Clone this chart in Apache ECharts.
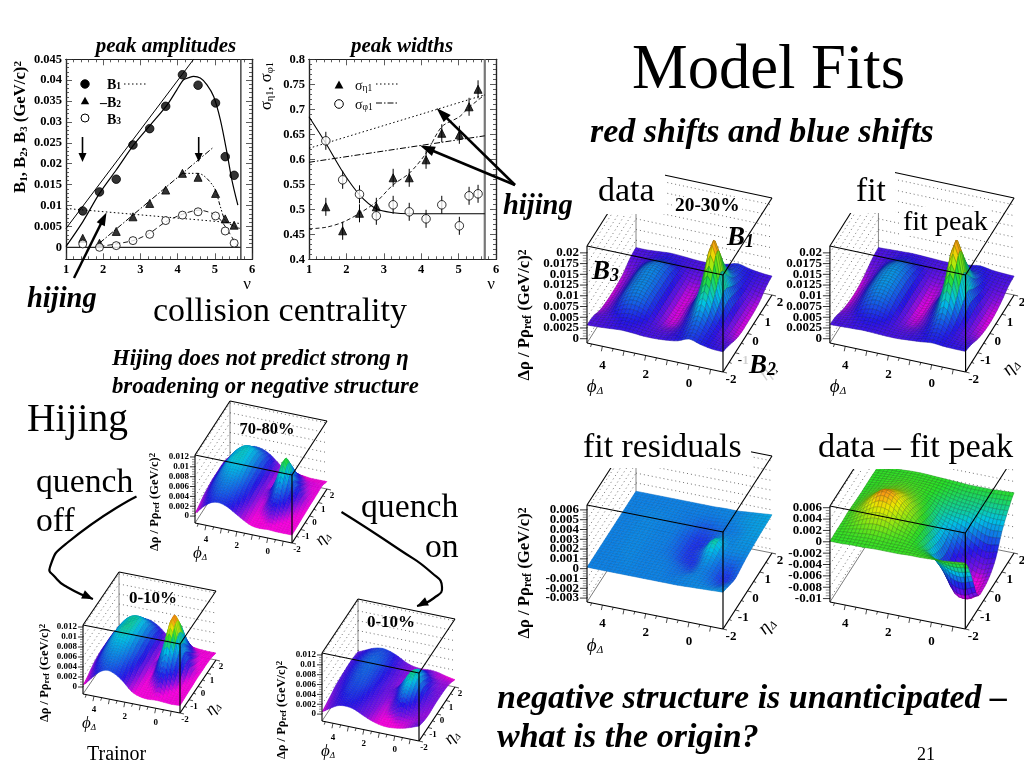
<!DOCTYPE html>
<html><head><meta charset="utf-8">
<style>html,body{margin:0;padding:0;background:#fff}#c{width:1024px;height:768px}</style>
<script src="https://cdn.jsdelivr.net/npm/echarts@6/dist/echarts.min.js"></script>
</head><body><div id="c"></div>
<script>
// ---------- 2-D plots: data ----------
const nu = [1.45,1.9,2.35,2.8,3.25,3.68,4.13,4.55,5.02,5.28,5.52];
const b1 = [.0087,.01325,.0163,.0245,.0284,.03375,.0413,.0388,.03455,.0217,.01723];
const b2 = [.00215,.00096,.0038,.0073,.0105,.0137,.0177,.01675,.0129,.0068,.0053];
const b3 = [.0008,0,.0004,.0016,.0031,.0064,.0077,.0085,.0075,.0039,.001];
const b1Curve = [[1,.0002],[1.45,.0061],[1.9,.0129],[2.35,.0185],[2.82,.0245],[3.27,.0293],[3.72,.0341],[3.98,.0377],[4.16,.0401],[4.3,.0406],[4.43,.0409],[4.61,.0405],[4.79,.0389],[4.97,.0361],[5.15,.0305],[5.33,.0225],[5.46,.0161],[5.62,.0101]];
const b1Line = [[1,.0045],[4.43,.045]];
const b1Hijing = [[1,.0093],[5.69,.0057]];
const b2Line = [[1.9,.001],[4.97,.024]];
const b2Curve = [[4.13,.0177],[4.55,.0177],[4.97,.0145],[5.15,.0097],[5.28,.0065],[5.52,.005],[5.69,.0045]];
const b3Curve = [[1.9,.0002],[2.8,.0016],[3.25,.0034],[3.68,.0061],[4.13,.0079],[4.57,.0089],[5.02,.0077],[5.28,.005],[5.53,.0014],[5.62,.0002]];
const sigEta = [.505,.457,.492,.505,.563,.563,.599,.652,.649,.705,.74];
const sigPhi = [.637,.559,.53,.487,.509,.495,.481,.509,.467,.527,.531];
const sigErr = .018;
const sigPhiCurve = [[1,.685],[1.45,.632],[1.9,.575],[2.35,.529],[2.8,.501],[3.25,.493],[3.68,.491],[5.7,.491]];
const sigEtaCurve = [[1,.461],[1.45,.464],[1.9,.474],[2.35,.492],[2.8,.515],[3.25,.549],[3.68,.572],[4.13,.612],[4.55,.665],[5.02,.685],[5.28,.704],[5.7,.729]];
const sigEtaHijing = [[1,.622],[5.7,.729]];
const sigPhiHijing = [[1,.594],[5.7,.647]];
const ampTicks = [0,.005,.01,.015,.02,.025,.03,.035,.04,.045];
const widthTicks = [.4,.45,.5,.55,.6,.65,.7,.75,.8];
const nuTicks = [1,2,3,4,5,6];

// ---------- surfaces: heights in units of 0.001, rows eta -2..2, columns phi -1.57..4.71 ----------
const PHI = [-1.57,-1.05,-.52,0,.52,1.05,1.57,2.09,2.62,3.14,3.67,4.19,4.71];
const ETA = [-2,-1.5,-1,-.5,0,.5,1,1.5,2];
const zData = [
[3.7,3.8,4.3,5,4,3.6,3.4,3.4,3.6,3.7,3.5,3.3,3.2],
[3,3.5,4.5,6,4.3,3.2,3,3.4,4,4.3,3.8,3.2,3],
[2,3,5,8.5,5,2.5,2,3.4,5.5,6.2,5.2,3,2],
[1.5,3,6.5,13,6.5,2.5,1.5,3.5,6,7,6,3,1.6],
[1.5,3.2,8,19,8,2.8,1.5,3.5,6,7,6,3,1.5],
[1.6,3,6.5,13,6,2.5,1.6,3.5,6,7,6,3,1.6],
[2,3,5,8,5,2.6,2,3.4,5.5,6.2,5.2,3,2],
[3,3.4,4.3,5.5,4.2,3.2,3,3.4,4,4.3,3.8,3.2,3],
[3.4,3.6,4,4.6,3.9,3.4,3.3,3.4,3.6,3.7,3.5,3.3,3.3]];
const zFit = [
[3.8,3.8,3.9,4.1,3.8,3.6,3.4,3.4,3.5,3.6,3.5,3.4,3.3],
[3.2,3.4,4,5.2,4,3.2,3,3.4,4,4.3,3.9,3.2,3],
[2.2,2.9,4.6,8,4.6,2.6,2.1,3.4,5.4,6.2,5.2,3.1,2.1],
[1.6,2.8,6,13.5,6,2.6,1.6,3.5,6.2,7.2,6.1,3.1,1.6],
[1.4,2.9,7.5,19,7.5,2.8,1.4,3.5,6.4,7.4,6.3,3.2,1.4],
[1.6,2.8,6,13.5,6,2.6,1.6,3.5,6.2,7.2,6.1,3.1,1.6],
[2.2,2.9,4.6,8,4.6,2.6,2.1,3.4,5.4,6.2,5.2,3.1,2.2],
[3.1,3.3,3.9,5,3.9,3.2,3,3.4,4,4.3,3.9,3.2,3],
[3.4,3.5,3.7,4.1,3.7,3.4,3.3,3.4,3.5,3.6,3.5,3.4,3.3]];
const zResid = [
[.35,.3,.25,.2,.15,.15,.15,.15,.15,.15,.15,.15,.15],
[.05,-.2,.05,.2,.1,.05,.15,.15,.15,.2,.15,.15,.15],
[-.2,-.65,-.1,.15,-.3,-.1,.1,.15,.15,.2,.2,.15,.15],
[0,-.3,0,.5,-.5,-.5,-.1,.1,.15,.2,.2,.15,.15],
[.2,.2,.25,1.1,-.2,-.6,-.2,.1,.15,.2,.2,.15,.15],
[.3,.3,.2,.35,-.4,-.6,-.2,.1,.15,.2,.2,.15,.15],
[.4,.35,.15,.05,-.2,-.35,-.05,.1,.15,.2,.2,.15,.15],
[.45,.4,.3,.15,.1,.05,.1,.1,.15,.15,.15,.15,.15],
[.5,.4,.3,.2,.2,.15,.15,.15,.15,.15,.15,.15,.15]];
const zDataMinusFit = [
[1,.8,.6,.5,.4,.4,.3,.3,.3,.2,.2,.1,.1],
[-3,-3.5,-3,-1.5,-.5,.1,.4,.5,.7,.8,.6,.4,.2],
[-8,-9,-8.5,-5,-2.5,-.5,.7,1.6,2.8,3,2.2,1,.2],
[-8.5,-9.3,-8.7,-6.8,-3.5,-1,1,2.6,4.4,5,3.4,1.5,.3],
[-8,-8.8,-8,-6.5,-3.8,-1.7,.4,2.1,3.4,3.7,2.7,1.2,.2],
[-6.5,-7,-6,-4.5,-3,-2,-.3,1,1.9,2,1.5,.7,.1],
[-3.5,-3.6,-3,-2,-1.8,-1.4,-.5,.3,.8,1,.7,.3,.1],
[-1.5,-1.6,-1.5,-1.2,-1,-.6,-.1,.2,.3,.4,.3,.2,.1],
[0,-.1,-.2,-.2,-.2,-.1,0,.1,.2,.2,.1,.1,0]];
const zPeriph = [
[.2,.2,.2,.3,.2,.4,1.2,2.2,3.2,3.7,3.4,2.2,.6],
[.3,.4,.8,2,.8,.5,1.4,2.8,4.2,4.8,4.3,2.8,1],
[.4,.8,2.5,4,2.5,.8,1.8,3.5,5,5.6,5,3.5,1.5],
[.5,1.5,3.5,7,3.5,1.2,1.9,4,6,6.5,5.8,4,1.8],
[.6,2,5,9.2,5,2,2,4.3,6.5,7,6.5,4.2,2],
[.6,1.5,3.5,7,3.5,1.2,2.2,4.5,6.6,7.1,6.4,4.2,2],
[.7,.9,2.2,4,2.2,1,2.3,4.6,6.5,7,6,4,2],
[.7,.8,1,2,1.1,1.1,2.4,4.1,5.3,5.6,4.9,3.3,1.8],
[.1,.1,.1,.3,.3,.6,1.8,3.2,4,4.2,3.6,2.4,1.2]];
const zQuenchOff = [
[.1,0,.1,.2,.1,.3,1,2.6,3.8,4.3,3.6,2,.4],
[.2,.2,.6,2.5,.6,.4,1.3,3,4.7,5.2,4.5,2.8,.8],
[.3,.5,3,5.5,3,.6,1.7,3.7,5.5,6,5.4,3.6,1.4],
[.4,1.2,5,9.5,5,1,1.9,4.2,6.3,6.9,6.2,4.1,1.8],
[.5,2,6.5,11.8,6.5,2,2,4.5,6.8,7.4,6.7,4.4,2],
[.5,1.2,5,9.5,5,1.1,2.2,4.7,6.9,7.4,6.6,4.4,2],
[.5,.6,3,5.5,3,1,2.3,4.8,6.8,7.2,6.3,4.2,2],
[.4,.5,1.2,2.5,1.2,1,2.3,4.2,5.4,5.7,5,3.4,1.8],
[0,0,.1,.3,.2,.5,1.6,3,3.9,4.1,3.5,2.4,1.2]];
const zQuenchOn = [
[1.6,1,.5,.2,.1,.3,.8,1.5,2.3,2.6,2.4,1.5,.5],
[1.2,1,.9,1.2,.5,.4,1,1.8,2.7,3,2.7,1.9,.8],
[1,1.2,2.5,3.7,2.3,.7,1.2,2.1,3,3.3,3.1,2.2,1.2],
[1.1,1.6,3.5,5.3,3.4,1.2,1.4,2.4,3.3,3.6,3.3,2.5,1.6],
[1.2,2,4.2,6.2,4.2,2,1.5,2.5,3.4,3.8,3.5,2.7,1.8],
[1.2,1.6,3.5,5.3,3.4,1.2,1.5,2.6,3.5,3.9,3.6,2.8,1.9],
[1.1,1.2,2.5,3.7,2.4,1,1.6,2.7,3.6,3.9,3.6,2.8,2],
[.8,.9,1.1,2.2,1.2,1.1,1.6,2.6,3.4,3.7,3.4,2.7,1.9],
[.1,.4,.8,1,.9,1,1.5,2.4,3.1,3.4,3.1,2.4,1.7]];

const ticksBig = ['0','0.0025','0.005','0.0075','0.01','0.0125','0.015','0.0175','0.02'];
const ticksResid = ['-0.003','-0.002','-0.001','0','0.001','0.002','0.003','0.004','0.005','0.006'];
const ticksDiff = ['-0.01','-0.008','-0.006','-0.004','-0.002','0','0.002','0.004','0.006'];
const ticksSmall = ['0','0.002','0.004','0.006','0.008','0.01','0.012'];

// ---------- colour ramp (from low z to high z) ----------
const RAMP = [[250,0,225],[125,15,230],[35,20,235],[0,195,230],[40,225,40],[235,235,0],[250,150,20],[235,40,20]];

// ---------- panel layout ----------
const SERIF = '"Liberation Serif"';
const big = {phiOff:19, etaOff:[8,8], fz:13, fa:14, mesh:.65};
const small = {phiOff:14, etaOff:[5,7], fz:9, fa:12, mesh:.85};
const panels = [
 {z:zData, A:[587,343],B:[723,372],C:[772,295],H:97, z0:-1,z1:21.6, tick:ticksBig, stops:[1.2,2.4,4,8.5,12.5,16,18,21], ...big, etaName:[768,372], nameAt:[525,315], yt:16.7, phiName:[595,387]},
 {z:zFit, A:[830,343],B:[967,372],C:[1016,295],H:97, z0:-1,z1:21.6, tick:ticksBig, stops:[1.2,2.4,4,8.5,12.5,16,18,21], ...big, etaName:[1011,367], phiName:[838,387]},
 {z:zResid, A:[587,602],B:[723,629],C:[772,553],H:97, z0:-3.4,z1:6.5, tick:ticksResid, stops:[-1.9,-1.4,-.9,.75,1.6,2.2,3,4], ...big, mesh:.8, etaName:[767,626], nameAt:[525,573], yt:16.7, phiName:[595,646]},
 {z:zDataMinusFit, A:[830,602],B:[966,629],C:[1015,553],H:96, z0:-10.6,z1:6.3, tick:ticksDiff, stops:[-9,-8,-6,-2.6,0,3.6,5,7], ...big, phiName:null},
 {z:zPeriph, A:[195,523],B:[292,543],C:[327,489],H:68, z0:-1.4,z1:12.4, tick:ticksSmall, stops:[.6,1.8,3,6.8,9,10.5,12,13], ...small, etaName:[323,538], nameAt:[155,502], yt:12.5, phiName:[200,554]},
 {z:zQuenchOff, A:[83,694],B:[180,713],C:[216,660],H:69, z0:-1.4,z1:12.4, tick:ticksSmall, stops:[.6,1.8,3,6.8,8.5,10,11.2,12.5], ...small, etaName:[213,708], nameAt:[45,673], yt:12.5, phiName:[89,724]},
 {z:zQuenchOn, A:[322,721],B:[419,741],C:[455,687],H:68, z0:-1.4,z1:12.4, tick:ticksSmall, stops:[.3,1.2,2.7,5.2,7,9,11,12.2], ...small, etaName:[452,737], nameAt:[282,710], yt:12.5, phiName:[328,752]}
];

// ---------- helpers ----------
function cr(p0,p1,p2,p3,t){return .5*((2*p1)+(-p0+p2)*t+(2*p0-5*p1+4*p2-p3)*t*t+(-p0+3*p1-3*p2+p3)*t*t*t);}
function refine(row,n){ // drawing-time smoothing of a row between read values
  const out=[];for(let i=0;i<row.length-1;i++){const a=row[Math.max(i-1,0)],b=row[i],c=row[i+1],d=row[Math.min(i+2,row.length-1)];
    for(let k=0;k<n;k++)out.push(cr(a,b,c,d,k/n));}
  out.push(row[row.length-1]);return out;}
function refineGrid(m,nx,ny){
  const r=m.map(x=>refine(x,nx));const res=[];
  const cols=r[0].map((_,i)=>refine(r.map(x=>x[i]),ny));
  for(let j=0;j<cols[0].length;j++)res.push(cols.map(c=>c[j]));
  return res;}
function colorOf(p,v){
  const s=p.stops;let i=0;if(v<=s[0])return `rgb(${RAMP[0]})`;
  if(v>=s[7])return `rgb(${RAMP[7]})`;
  while(v>s[i+1])i++;const t=(v-s[i])/(s[i+1]-s[i]);
  return 'rgb('+RAMP[i].map((c,k)=>Math.round(c+(RAMP[i+1][k]-c)*t)).join(',')+')';}
function darker(col,f){const a=col.match(/\d+/g).map(Number);return `rgb(${a.map(c=>Math.round(c*f)).join(',')})`;}

const grids=[],xAxes=[],yAxes=[],series=[],gfx=[];
function T(text,x,y,font,o){o=o||{};const size=parseFloat(font.match(/([\d.]+)px/)[1]);
  if(!o.rot&&!o.rich)y+=size*.055;
  gfx.push({type:'text',x,y,rotation:o.rot||0,z:o.z||60,silent:true,
  style:{text,x:0,y:0,font,fill:o.fill||'#000',opacity:o.op==null?1:o.op,textAlign:o.align||'left',textVerticalAlign:'middle',rich:o.rich}});}
function mask(x,y,w,h,op){gfx.push({type:'rect',z:50,silent:true,shape:{x,y,width:w,height:h},style:{fill:'#fff',opacity:op==null?1:op}});}
function arrow(x1,y1,x2,y2,w,hl,hw){
  const a=Math.atan2(y2-y1,x2-x1),c=Math.cos(a),s=Math.sin(a);
  gfx.push({type:'line',z:55,silent:true,shape:{x1,y1,x2:x2-c*hl*.7,y2:y2-s*hl*.7},style:{stroke:'#000',lineWidth:w}});
  gfx.push({type:'polygon',z:55,silent:true,shape:{points:[[x2,y2],[x2-c*hl-s*hw,y2-s*hl+c*hw],[x2-c*hl+s*hw,y2-s*hl-c*hw]]},style:{fill:'#000'}});}
function curveArrow(pts,w,hl,hw){
  gfx.push({type:'polyline',z:55,silent:true,shape:{points:pts,smooth:.6},style:{stroke:'#000',lineWidth:w,fill:null}});
  const n=pts.length;arrow(pts[n-2][0]+(pts[n-1][0]-pts[n-2][0])*.7,pts[n-2][1]+(pts[n-1][1]-pts[n-2][1])*.7,pts[n-1][0],pts[n-1][1],w,hl,hw);}

// ---------- framed 2-D axes ----------
function frame(left,top,right,bottom,xr,yr,xMaj,xMin,yMaj,yMin,yFmt){
  const g=grids.length;grids.push({left,top,width:right-left,height:bottom-top,show:false});
  const xi=xAxes.length,yi=yAxes.length;
  const mk=(min,max,pos,vals,len,lab,fmt)=>({gridIndex:g,type:'value',min,max,position:pos,silent:true,
    axisLine:{show:true,onZero:false,lineStyle:{color:'#222',width:1.2}},splitLine:{show:false},
    axisTick:{show:true,inside:true,length:len,customValues:vals,lineStyle:{color:'#333',width:.8}},
    axisLabel:lab?{show:true,customValues:vals,color:'#000',fontFamily:SERIF,fontWeight:'bold',fontSize:12.5,margin:4,formatter:fmt,showMinLabel:true,showMaxLabel:true,hideOverlap:false}:{show:false}});
  xAxes.push(mk(xr[0],xr[1],'bottom',xMaj,6,true,v=>String(v)),mk(xr[0],xr[1],'bottom',xMin,3,false),mk(xr[0],xr[1],'top',xMaj,6,false),mk(xr[0],xr[1],'top',xMin,3,false));
  yAxes.push(mk(yr[0],yr[1],'left',yMaj,6,true,yFmt),mk(yr[0],yr[1],'left',yMin,3,false),mk(yr[0],yr[1],'right',yMaj,6,false),mk(yr[0],yr[1],'right',yMin,3,false));
  return {xi,yi};}
function sub(list,step){const out=[];for(let i=0;i<list.length-1;i++)for(let k=1;k<step;k++)out.push(+(list[i]+(list[i+1]-list[i])*k/step).toFixed(5));return out;}
const fa=frame(66,59.3,252,259.3,[1,6],[-.00287,.045],nuTicks,sub(nuTicks,5),ampTicks,sub(ampTicks,5),v=>String(+v.toFixed(3)));
const fw=frame(309,59.3,496,259.3,[1,6],[.4,.8],nuTicks,sub(nuTicks,5),widthTicks,sub(widthTicks,5),v=>String(+v.toFixed(2)));
const ax=f=>({xAxisIndex:f.xi,yAxisIndex:f.yi,animation:false,silent:true});
const line=(f,data,type,w,smooth,color)=>series.push({...ax(f),type:'line',data,showSymbol:false,smooth:smooth?.3:false,z:3,lineStyle:{color:color||'#000',width:w,type}});
const pts=(f,ys,sym,size,fill)=>series.push({...ax(f),type:'scatter',data:nu.map((x,i)=>[x,ys[i]]),symbol:sym,symbolSize:size,z:5,itemStyle:{color:fill,borderColor:'#000',borderWidth:1}});

line(fa,[[5.7,-.00287],[5.7,.045]],'solid',1.6,false,'#555');
line(fa,[[1,0],[5.7,0]],'solid',1.2,false,'#222');
line(fa,b1Curve,'solid',1.2,true);line(fa,b1Line,'solid',1);line(fa,b1Hijing,[1.5,2.5],1);
line(fa,b2Line,[6,2,1.5,2],1);line(fa,b2Curve,[4,2,1.5,2,1.5,2],1,true);line(fa,b3Curve,[5,3],.9,true);
pts(fa,b1,'circle',8.5,'#000');pts(fa,b2,'triangle',8,'#000');pts(fa,b3,'circle',8,'#fff');

line(fw,[[5.7,.4],[5.7,.8]],'solid',2.2,false,'#777');
line(fw,sigPhiCurve,'solid',1.1,true);line(fw,sigEtaCurve,[4,2.5],.9,true);
line(fw,sigEtaHijing,[1.5,2.5],1);line(fw,sigPhiHijing,[6,2,1.5,2],1);
[sigEta,sigPhi].forEach(ys=>series.push({...ax(fw),type:'custom',z:4,data:nu.map((x,i)=>[x,ys[i]-sigErr,ys[i]+sigErr]),
  renderItem:(p,api)=>{const a=api.coord([api.value(0),api.value(1)]),b=api.coord([api.value(0),api.value(2)]);
    return {type:'line',shape:{x1:a[0],y1:a[1],x2:b[0],y2:b[1]},style:{stroke:'#000',lineWidth:1}};}}));
pts(fw,sigEta,'triangle',8,'#000');pts(fw,sigPhi,'circle',8.5,'#fff');

// ---------- 3-D panels projected through hidden axes ----------
const PHI_SPAN=PHI[PHI.length-1]-PHI[0];
panels.forEach((p)=>{
  const left=p.A[0]-10,right=p.C[0]+10,bottom=p.B[1]+10,top=p.C[1]-p.H-30;
  const g=grids.length;grids.push({left,top,width:right-left,height:bottom-top,show:false});
  const xi=xAxes.length,yi=yAxes.length;
  xAxes.push({gridIndex:g,type:'value',min:0,max:1,show:false});
  yAxes.push({gridIndex:g,type:'value',min:0,max:1,show:false});
  const proj=(api,a,b,h)=>{ // a: along phi 0..1, b: along eta 0..1, h: along z 0..1
    const x=p.B[0]+a*(p.A[0]-p.B[0])+b*(p.C[0]-p.B[0]);
    const y=p.B[1]+a*(p.A[1]-p.B[1])+b*(p.C[1]-p.B[1])-h*p.H;
    return api.coord([(x-left)/(right-left),(bottom-y)/(bottom-top)]);};
  const hOf=z=>(z-p.z0)/(p.z1-p.z0);
  const aOf=v=>(v-PHI[0])/PHI_SPAN, bOf=v=>(v+2)/4;
  const L=(api,f,t,w,col,dash)=>{const P=proj(api,...f),Q=proj(api,...t);
    return {type:'line',shape:{x1:P[0],y1:P[1],x2:Q[0],y2:Q[1]},style:{stroke:col||'#000',lineWidth:w||1,lineDash:dash||null}};};
  const tickVals=p.tick.map(Number).map(v=>v*1000);
  // back of box
  series.push({type:'custom',xAxisIndex:xi,yAxisIndex:yi,z:1,silent:true,animation:false,data:[[0]],renderItem:(x,api)=>{
    const c=[];const d=[1,3];
    tickVals.forEach((v)=>{const h=hOf(v);
      c.push(L(api,[1,0,h],[1,1,h],.7,'#333',d));c.push(L(api,[1,1,h],[0,1,h],.7,'#333',d));
    });
    c.push(L(api,[1,1,0],[1,1,1],.7,'#555'));
    c.push(L(api,[1,1,1],[0,1,1],1.1));c.push(L(api,[1,0,1],[1,1,1],1.1));
    c.push(L(api,[1,0,0],[1,1,0],.7,'#444'));c.push(L(api,[1,1,0],[0,1,0],.7,'#444'));
    return {type:'group',children:c};}});
  // surface
  const nx=3,ny=4;const fine=refineGrid(p.z,nx,ny);const cells=[];
  for(let j=fine.length-2;j>=0;j--)for(let i=fine[0].length-2;i>=0;i--)cells.push([i,j]);
  const na=fine[0].length-1,nb=fine.length-1;
  series.push({type:'custom',xAxisIndex:xi,yAxisIndex:yi,z:2,silent:true,animation:false,progressive:0,data:cells,renderItem:(x,api)=>{
    const i=api.value(0),j=api.value(1);
    const q=[[i,j],[i+1,j],[i+1,j+1],[i,j+1]];
    const points=q.map(([s,t])=>proj(api,s/na,t/nb,hOf(fine[t][s])));
    const avg=q.reduce((m,[s,t])=>m+fine[t][s],0)/4;const col=colorOf(p,avg);
    return {type:'polygon',shape:{points},style:{fill:col,stroke:darker(col,p.mesh),lineWidth:.5}};}});
  // front of box, ticks
  series.push({type:'custom',xAxisIndex:xi,yAxisIndex:yi,z:3,silent:true,animation:false,data:[[0]],renderItem:(x,api)=>{
    const c=[];
    c.push(L(api,[1,0,0],[0,0,0],1.2));c.push(L(api,[0,0,0],[0,1,0],1.2));
    c.push(L(api,[1,0,0],[1,0,1],1.1));c.push(L(api,[0,0,0],[0,0,1],1.2));
    c.push(L(api,[1,0,1],[0,0,1],1.2));c.push(L(api,[0,0,1],[0,1,1],1.1));
    const tl=p.fz>10?7:5;
    const addLab=(txt,P,font,align)=>c.push({type:'text',style:{text:txt,x:P[0],y:P[1],font,fill:'#000',textAlign:align||'center',textVerticalAlign:'middle'}});
    const font='bold '+p.fz+'px '+SERIF;
    tickVals.forEach((v,i)=>{const P=proj(api,1,0,hOf(v));
      c.push({type:'line',shape:{x1:P[0]-tl,y1:P[1],x2:P[0],y2:P[1]},style:{stroke:'#000',lineWidth:.8}});
      addLab(p.tick[i],[P[0]-tl-1,P[1]],font,'right');
      if(i<tickVals.length-1)for(let k=1;k<4;k++){const Q=proj(api,1,0,hOf(v+(tickVals[i+1]-v)*k/4));
        c.push({type:'line',shape:{x1:Q[0]-tl*.6,y1:Q[1],x2:Q[0],y2:Q[1]},style:{stroke:'#444',lineWidth:.6}});}
    });
    [-1,-.5,0,.5,1,1.5,2,2.5,3,3.5,4,4.5].forEach(v=>{const P=proj(api,aOf(v),0,0);const mj=Number.isInteger(v);
      c.push({type:'line',shape:{x1:P[0],y1:P[1],x2:P[0]-1,y2:P[1]+(mj?5:3)},style:{stroke:'#000',lineWidth:.7}});
      if(v===0||v===2||v===4)addLab(String(v),[P[0],P[1]+p.phiOff],font);});
    [-2,-1.5,-1,-.5,0,.5,1,1.5,2].forEach(v=>{const P=proj(api,0,bOf(v),0);const mj=Number.isInteger(v);
      c.push({type:'line',shape:{x1:P[0],y1:P[1],x2:P[0]+(mj?4:2.5),y2:P[1]+1},style:{stroke:'#000',lineWidth:.7}});
      if(mj)addLab(String(v),[P[0]+p.etaOff[0],P[1]+p.etaOff[1]],font);});
    return {type:'group',children:c};}});
  const fn='italic bold '+(p.fa+4)+'px '+SERIF;
  const lab={a:{font:'italic '+(p.fa+5)+'px '+SERIF},s:{font:'italic '+(p.fa-3)+'px '+SERIF,verticalAlign:'bottom'}};
  if(p.phiName)T('{a|ϕ}{s|Δ}',p.phiName[0],p.phiName[1],fn,{align:'center',z:40,rich:lab});
  if(p.etaName)T('{a|η}{s|Δ}',p.etaName[0],p.etaName[1],fn,{align:'center',rot:Math.PI/4,z:40,rich:lab});
  if(p.nameAt){const s=p.yt;T('{a|Δρ / Pρ}{s|ref}{a| (GeV/c)}{u|2}',p.nameAt[0],p.nameAt[1],'bold '+s+'px '+SERIF,{align:'center',rot:Math.PI/2,z:40,
    rich:{a:{font:'bold '+s+'px '+SERIF},s:{font:'bold '+(s*.7)+'px '+SERIF,verticalAlign:'bottom'},u:{font:'bold '+(s*.7)+'px '+SERIF,verticalAlign:'top'}}});}
});

// ---------- white text boxes of the slide ----------
mask(597,168,68,46);mask(672,197,70,16);
mask(845,168,50,45);mask(900,207,90,29);
mask(575,428,176,40);mask(812,428,212,41);
mask(742,352,34,35,.82);

// ---------- slide text ----------
const TNR=(s)=>s+'px '+SERIF, BI=(s)=>'italic bold '+s+'px '+SERIF;
T('Model Fits',632,68,TNR(62.6));
T('red shifts and blue shifts',590,131,BI(34));
T('peak amplitudes',166,45,BI(21),{align:'center'});
T('peak widths',402,45,BI(21),{align:'center'});
T('hijing',27,298,BI(28.5));T('hijing',503,205,BI(28.5));
T('collision centrality',153,310,TNR(34));
T('Hijing does not predict strong η',112,358,BI(22.7));
T('broadening or negative structure',112,386,BI(22.7));
T('Hijing',27,418,TNR(39.5));
T('quench',36,481,TNR(33.7));T('off',36,520,TNR(33.7));
T('quench',361,506,TNR(33.7));T('on',425,546,TNR(33.7));
T('data',598,190,TNR(34));T('fit',856,190,TNR(33.5));T('fit peak',903,221,TNR(28));
T('fit residuals',583,446,TNR(33.8));T('data – fit peak',818,446,TNR(34.3));
T('negative structure is unanticipated –',497,697,BI(34));
T('what is the origin?',497,736,BI(34));
T('Trainor',87,754,TNR(20));T('21',917,754,TNR(18));
T('20-30%',675,205,'bold 19.4px '+SERIF);
T('70-80%',267,429,'bold 16.5px '+SERIF,{align:'center'});
T('0-10%',153,598,'bold 17px '+SERIF,{align:'center'});
T('0-10%',391,622,'bold 17px '+SERIF,{align:'center'});
const B=(n,x,y)=>T('{a|B}{s|'+n+'}',x,y,BI(27),{rich:{a:{font:BI(27)},s:{font:BI(18),verticalAlign:'bottom'}}});
B('1',727,238);B('2',749,366);B('3',592,272);

// axis titles and legends of the 2-D plots
T('ν',247,284,TNR(17),{align:'center'});T('ν',491,284,TNR(17),{align:'center'});
T('{a|B}{s|1}{a|, B}{s|2}{a|, B}{s|3}{a| (GeV/c)}{u|2}',21,127,'bold 16.7px '+SERIF,{align:'center',rot:Math.PI/2,rich:{a:{font:'bold 16.7px '+SERIF},s:{font:'bold 11px '+SERIF,verticalAlign:'bottom'},u:{font:'bold 11px '+SERIF,verticalAlign:'top'}}});
T('{a|σ}{s|η1}{a|, σ}{s|φ1}',267,86,'15px '+SERIF,{align:'center',rot:Math.PI/2,rich:{a:{font:'16.5px '+SERIF},s:{font:'10.5px '+SERIF,verticalAlign:'bottom'}}});
const legendTxt=(t,x,y,sb,bold)=>T('{a|'+t+'}{s|'+sb+'}',x,y,'12px '+SERIF,{rich:{a:{font:(bold?'bold ':'')+'14px '+SERIF},s:{font:(bold?'bold ':'')+'9.5px '+SERIF,verticalAlign:'bottom'}}});
legendTxt('B',107,85,'1',true);legendTxt('–B',100,103,'2',true);legendTxt('B',107,120,'3',true);
legendTxt('σ',355,86,'η1',false);legendTxt('σ',355,105,'φ1',false);
const lg=(x1,x2,y,dash)=>gfx.push({type:'line',z:55,silent:true,shape:{x1,y1:y,x2,y2:y},style:{stroke:'#000',lineWidth:1,lineDash:dash}});
lg(124,146,84,[1.5,2.5]);lg(376,399,84,[1.5,2.5]);lg(376,397,103,[6,2,1.5,2]);
const circ=(cx,cy,r,fill)=>gfx.push({type:'circle',z:55,silent:true,shape:{cx,cy,r},style:{fill,stroke:'#000',lineWidth:1}});
const tri=(cx,cy,r)=>gfx.push({type:'polygon',z:55,silent:true,shape:{points:[[cx,cy-r],[cx+r,cy+r*.8],[cx-r,cy+r*.8]]},style:{fill:'#000'}});
circ(85,84,4.2,'#000');tri(85,101,4.2);circ(85,118,4,'#fff');
tri(339,85,4.4);circ(339,104,4.3,'#fff');

// annotation arrows
arrow(82.5,137,82.5,162,1.6,9,4);arrow(198.7,137,198.7,162,1.6,9,4);
arrow(74,278,106.5,212.5,2.4,13,4.5);
arrow(515,185,436.5,108,2.6,15,5);arrow(515,185,420,145.5,2.6,15,5);
curveArrow([[136.5,496.5],[67,543],[50,567],[55,577],[67,587],[93,599]],2.2,11,4.5);
curveArrow([[341.5,512],[400,550],[432,573],[442,587],[434,598],[417,606]],2.2,11,4.5);

const chart=echarts.init(document.getElementById('c'),null,{renderer:'canvas',width:1024,height:768});
chart.setOption({animation:false,backgroundColor:'#fff',textStyle:{fontFamily:SERIF},grid:grids,xAxis:xAxes,yAxis:yAxes,series,graphic:{elements:gfx}});
</script></body></html>
